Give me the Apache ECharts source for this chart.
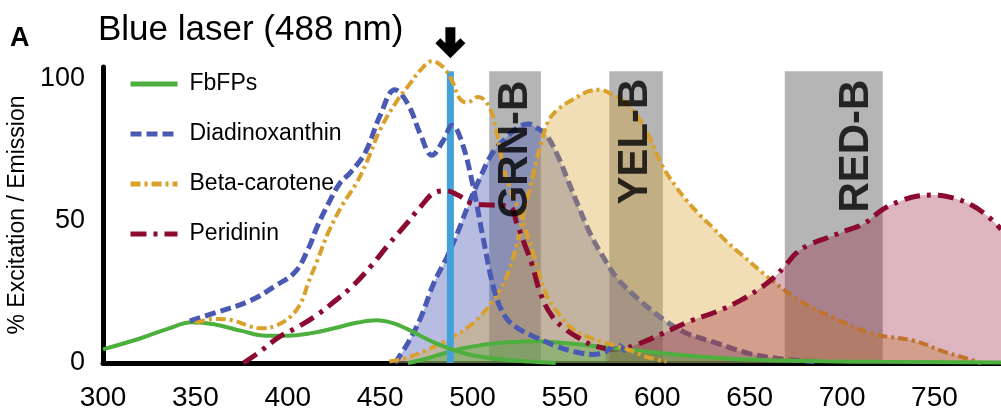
<!DOCTYPE html>
<html>
<head>
<meta charset="utf-8" />
<title>Blue laser (488 nm)</title>
<style>
  html, body { margin: 0; padding: 0; background: #fff; }
  #main { width: 1001px; height: 416px; }
</style>
</head>
<body>
<div id="main"></div>
<script src="https://cdn.jsdelivr.net/npm/echarts@6/dist/echarts.min.js"></script>
<script type="text/javascript">
// ---- data ----
var xTicks = [300, 350, 400, 450, 500, 550, 600, 650, 700, 750];
var yTicks = [0, 50, 100];
var laserWl = 488;
var laserTop = 102.5;

// excitation curves (legend entries)
var fbfpExWl  = [300, 320, 335, 348, 360, 375, 388, 400, 412, 425, 438, 448, 457, 465, 472, 480, 490, 500, 515, 530, 545];
var fbfpExVal = [4.8, 8.6, 12, 14.3, 13.6, 11.3, 9.6, 9.6, 10.4, 12.2, 14.2, 15, 14, 11.8, 9.5, 7, 4.5, 2.7, 1.3, 0.5, 0];

var diaExWl  = [347, 360, 380, 393, 404, 411, 416, 422, 428, 434, 442, 450, 458, 465, 472, 478, 484, 489, 494, 500, 506, 512, 518, 525, 535, 545, 555, 565, 572, 578, 583];
var diaExVal = [14.8, 17.5, 22, 27, 32, 40, 48, 56, 63, 67, 74, 87, 96, 91, 80, 73, 78, 83.5, 78, 63, 43, 25, 16, 12, 8.8, 6, 4, 3, 4, 6.5, 4];

var betaExWl  = [350, 360, 370, 380, 386, 393, 401, 407, 411, 416, 422, 430, 437, 443, 450, 459, 466, 472, 478, 484, 489, 493, 497, 503, 509, 513, 517, 521, 526, 533, 540, 547, 554, 565, 575, 585, 595, 605];
var betaExVal = [14, 15.5, 15, 12.8, 12.2, 13, 16, 21, 28, 36, 46, 56, 63, 71, 82, 92, 98, 103, 106, 104, 99, 93, 91.5, 93.5, 90, 81, 68, 60, 52, 38, 24, 17, 12, 8.5, 6.5, 4.5, 2, 0.5];

var periExWl  = [376, 385, 395, 405, 415, 425, 435, 445, 455, 465, 472, 480, 486, 492, 500, 510, 520, 524, 528, 532, 537, 543, 550, 557, 564, 572];
var periExVal = [0, 4, 9, 12.5, 16.5, 21.5, 27, 34, 42, 49.5, 55, 60, 60.5, 59, 56, 55.5, 55, 49, 42, 35, 24, 16.5, 12, 9, 6.5, 5];

// emission curves (filled)
var diaEmWl  = [458, 465, 472, 479, 486, 492, 498, 504, 511, 518, 524, 530, 535, 540, 546, 552, 558, 564, 571, 578, 587, 596, 605, 614, 623, 632, 641, 650, 665, 685];
var diaEmVal = [0, 7, 16, 28, 37, 46, 56, 65, 74, 79, 82.5, 84, 82.5, 80, 73, 63.5, 54, 45, 37, 30, 24, 19, 14.5, 11, 8.8, 7, 5, 3.3, 1.6, 0.5];

var betaEmWl  = [455, 465, 475, 482, 490, 497, 505, 511, 516, 520, 524, 527, 530, 533, 537, 541, 546, 554, 563, 569, 575, 582, 590, 596, 603, 610, 616, 623, 630, 637, 645, 663, 677, 695, 717, 739, 755, 768, 775];
var betaEmVal = [0.5, 2, 4.5, 6.7, 9.5, 12.3, 17, 22, 27, 33, 42, 51, 59, 67, 77, 85, 89, 92.5, 95.5, 96, 94.5, 92, 86, 79, 69, 62, 57, 52, 47.6, 43, 38.4, 28.5, 22, 16, 10.2, 7.8, 4, 1.5, 0];

var periEmWl  = [572, 580, 589, 603, 618, 632, 645, 655, 663, 669, 675, 682, 692, 702, 712, 722, 732, 741, 750, 760, 770, 778, 786];
var periEmVal = [4.8, 5, 6.5, 10.4, 14.8, 18, 22, 26, 30, 34, 38.5, 41.5, 44, 46.5, 49, 54, 57, 58.7, 59, 58, 55.5, 52, 47];

var fbfpEmWl  = [465, 475, 485, 495, 505, 515, 525, 535, 545, 560, 575, 590, 605, 620, 640, 660, 690, 720, 786];
var fbfpEmVal = [0, 1.5, 3.5, 5.2, 6.3, 7.1, 7.5, 7.6, 7.3, 6.4, 5.3, 4.3, 3.3, 2.4, 1.5, 1, 0.6, 0.4, 0.2];

// detection filter bands
var bandNames = ['GRN-B', 'YEL-B', 'RED-B'];
var bandFrom  = [509, 574, 669];
var bandTo    = [537, 603, 722];
var bandTop   = 102.5;
var bandLabelX = [523, 588, 708];
var bandLabelY = [75, 77.8, 76.2];

// ---- chart ----
var sans = "'Liberation Sans', Arial, sans-serif";
var GREEN = '#4daf3e', BLUE = '#4a5ab3', GOLD = '#d9a12b', RED = '#8c0a30';

function pairs(xs, ys) {
    return xs.map(function (x, i) { return [x, ys[i]]; });
}

function curve(name, xs, ys, color, width, dash, z, fillAlpha) {
    var s = {
        name: name,
        type: 'line',
        z: z,
        data: pairs(xs, ys),
        smooth: 0.4,
        symbol: 'none',
        clip: false,
        silent: true,
        lineStyle: { color: color, width: width, type: dash },
        itemStyle: { color: color }
    };
    if (fillAlpha) s.areaStyle = { color: color, opacity: fillAlpha };
    return s;
}

var myChart = echarts.init(document.getElementById('main'));

var option = {
    backgroundColor: '#fff',
    animation: false,
    title: [
        { text: 'A', left: 10, top: 25, padding: 0,
          textStyle: { fontFamily: sans, fontSize: 27, fontWeight: 'bold', color: '#000' } },
        { text: 'Blue laser (488 nm)', left: 98, top: 13, padding: 0,
          textStyle: { fontFamily: sans, fontSize: 35, fontWeight: 'normal', color: '#000' } }
    ],
    legend: {
        data: ['FbFPs', 'Diadinoxanthin', 'Beta-carotene', 'Peridinin'],
        orient: 'vertical',
        left: 123,
        top: 64,
        itemWidth: 47,
        itemHeight: 14,
        itemGap: 20,
        selectedMode: false,
        itemStyle: { opacity: 0 },
        lineStyle: { width: 5 },
        textStyle: { fontFamily: sans, fontSize: 23, lineHeight: 30, color: '#000', padding: [0, 0, 0, 7] }
    },
    grid: { left: 103, right: 0, top: 67, bottom: 53, containLabel: false, outerBoundsMode: 'none' },
    xAxis: {
        type: 'value',
        min: 300,
        max: 786,
        interval: 50,
        axisLine: { lineStyle: { color: '#000', width: 5 } },
        axisTick: { show: false },
        splitLine: { show: false },
        axisLabel: {
            margin: 21,
            fontFamily: sans, fontSize: 28, color: '#000',
            formatter: function (v) { return xTicks.indexOf(v) >= 0 ? String(v) : ''; }
        }
    },
    yAxis: {
        type: 'value',
        min: 0,
        max: 104,
        interval: 50,
        name: '% Excitation / Emission',
        nameLocation: 'middle',
        nameRotate: 90,
        nameGap: 59,
        nameTextStyle: { fontFamily: sans, fontSize: 23, color: '#000' },
        axisLine: { show: true, lineStyle: { color: '#000', width: 5 } },
        axisTick: { show: false },
        splitLine: { show: false },
        axisLabel: {
            margin: 18,
            fontFamily: sans, fontSize: 27, color: '#000',
            formatter: function (v) { return yTicks.indexOf(v) >= 0 ? String(v) : ''; }
        }
    },
    series: [
        curve('Diadinoxanthin em', diaEmWl, diaEmVal, BLUE, 5, [11, 5], 1, 0.4),
        curve('Beta-carotene em', betaEmWl, betaEmVal, GOLD, 4, [10, 4, 3, 4], 2, 0.35),
        curve('Peridinin em', periEmWl, periEmVal, RED, 5, [16, 7, 4, 7], 3, 0.3),
        curve('FbFPs em', fbfpEmWl, fbfpEmVal, GREEN, 4, 'solid', 4, 0.4),
        {
            name: 'laser',
            type: 'line',
            z: 5,
            data: [[laserWl, 0], [laserWl, laserTop]],
            symbol: 'none',
            silent: true,
            lineStyle: { color: '#41a1d8', width: 7 }
        },
        curve('FbFPs', fbfpExWl, fbfpExVal, GREEN, 4, 'solid', 6),
        curve('Diadinoxanthin', diaExWl, diaExVal, BLUE, 5, [11, 5], 6),
        curve('Beta-carotene', betaExWl, betaExVal, GOLD, 4, [10, 4, 3, 4], 6),
        curve('Peridinin', periExWl, periExVal, RED, 5, [16, 7, 4, 7], 6),
        {
            // laser arrow, carrying the grey filter bands drawn over all curves
            name: 'arrow',
            type: 'scatter',
            z: 10,
            silent: true,
            clip: false,
            symbol: 'path://M10,0 L20,0 L20,16 L25,11 L30,16 L15,31 L0,16 L5,11 L10,16 Z',
            symbolSize: [30, 31],
            itemStyle: { color: '#000', opacity: 1 },
            data: [[laserWl, 112.5]],
            markArea: {
                silent: true,
                itemStyle: { color: 'rgba(0,0,0,0.29)' },
                data: bandNames.map(function (n, i) {
                    return [{ xAxis: bandFrom[i], yAxis: 0 }, { xAxis: bandTo[i], yAxis: bandTop }];
                })
            }
        },
        {
            name: 'band labels',
            type: 'scatter',
            z: 12,
            silent: true,
            symbolSize: 0,
            data: bandNames.map(function (n, i) { return { name: n, value: [bandLabelX[i], bandLabelY[i]] }; }),
            label: {
                show: true, position: 'inside', rotate: 90, formatter: '{b}',
                fontFamily: sans, fontSize: 42, fontWeight: 'bold', color: '#000'
            }
        }
    ]
};
myChart.setOption(option);
</script>
</body>
</html>
